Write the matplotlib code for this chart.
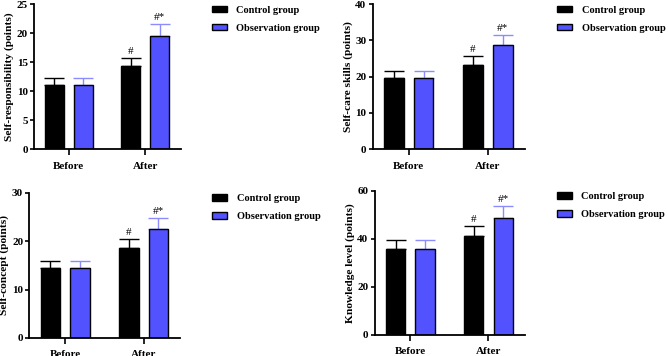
import numpy as np
import matplotlib
matplotlib.use("Agg")
import matplotlib.pyplot as plt

plt.rcParams['font.family'] = ['Liberation Serif', 'DejaVu Serif']
plt.rcParams['font.weight'] = 'bold'

fases = ['Before', 'After']
grupos = ['Control group', 'Observation group']

# valores (média, desvio)
resp_ctrl = [11.06, 14.3]
resp_ctrl_err = [1.2, 1.45]
resp_obs = [11.06, 19.6]
resp_obs_err = [1.2, 2.05]

care_ctrl = [19.7, 23.3]
care_ctrl_err = [2.0, 2.5]
care_obs = [19.7, 28.8]
care_obs_err = [2.0, 2.8]

conc_ctrl = [14.4, 18.5]
conc_ctrl_err = [1.45, 2.0]
conc_obs = [14.4, 22.5]
conc_obs_err = [1.45, 2.3]

know_ctrl = [35.9, 41.0]
know_ctrl_err = [3.8, 4.2]
know_obs = [35.9, 48.5]
know_obs_err = [3.8, 5.0]

azul = '#5252ff'
azul_erro = '#8c8cff'

fig = plt.figure(figsize=(6.68, 3.56), dpi=100)


def painel(pos, ctrl, ctrl_err, obs, obs_err, ylabel, yticks):
    ax = fig.add_axes(pos)
    x = np.arange(len(fases))
    w = 0.247
    d = 0.188
    ax.bar(x - d, ctrl, w, color='black', edgecolor='black', linewidth=1, label=grupos[0], zorder=2)
    ax.bar(x + d, obs, w, color=azul, edgecolor='black', linewidth=1, label=grupos[1], zorder=2)
    ax.errorbar(x - d, ctrl, yerr=[np.zeros(2), ctrl_err], fmt='none', ecolor='black',
                elinewidth=1, capsize=7, capthick=1, zorder=1)
    ax.errorbar(x + d, obs, yerr=[np.zeros(2), obs_err], fmt='none', ecolor=azul_erro,
                elinewidth=1, capsize=7, capthick=1, zorder=1)
    ymax = yticks[-1]
    off = ymax * 0.015
    ax.text(x[1] - d, ctrl[1] + ctrl_err[1] + off, '#', ha='center', va='bottom',
            fontsize=8, fontweight='normal')
    ax.text(x[1] + d, obs[1] + obs_err[1] + off, '#*', ha='center', va='bottom',
            fontsize=8, fontweight='normal')
    ax.set_xlim(-0.455, 1.468)
    ax.set_ylim(0, ymax)
    ax.set_yticks(yticks)
    ax.set_xticks(x)
    ax.set_xticklabels(fases)
    ax.set_ylabel(ylabel, fontsize=8.2, fontweight='bold', labelpad=2)
    ax.tick_params(axis='both', labelsize=8, width=1.2, length=3, pad=1.5)
    ax.tick_params(axis='x', length=4, pad=5)
    for s in ['top', 'right']:
        ax.spines[s].set_visible(False)
    for s in ['left', 'bottom']:
        ax.spines[s].set_linewidth(1.3)
    ax.legend(loc='upper left', bbox_to_anchor=(1.21, 0.99), frameon=False,
              borderaxespad=0, borderpad=0, handlelength=1.45, handleheight=0.6,
              handletextpad=0.9, labelspacing=0.85, prop={'size': 7.5, 'weight': 'bold'})
    return ax


painel([0.051, 0.581, 0.22, 0.407], resp_ctrl, resp_ctrl_err, resp_obs, resp_obs_err,
       'Self-responsibility (points)', [0, 5, 10, 15, 20, 25])
painel([0.558, 0.581, 0.228, 0.407], care_ctrl, care_ctrl_err, care_obs, care_obs_err,
       'Self-care skills (points)', [0, 10, 20, 30, 40])
painel([0.044, 0.051, 0.226, 0.407], conc_ctrl, conc_ctrl_err, conc_obs, conc_obs_err,
       'Self-concept (points)', [0, 10, 20, 30])
painel([0.561, 0.059, 0.225, 0.405], know_ctrl, know_ctrl_err, know_obs, know_obs_err,
       'Knowledge level (points)', [0, 20, 40, 60])

plt.savefig('out.png', dpi=100)
